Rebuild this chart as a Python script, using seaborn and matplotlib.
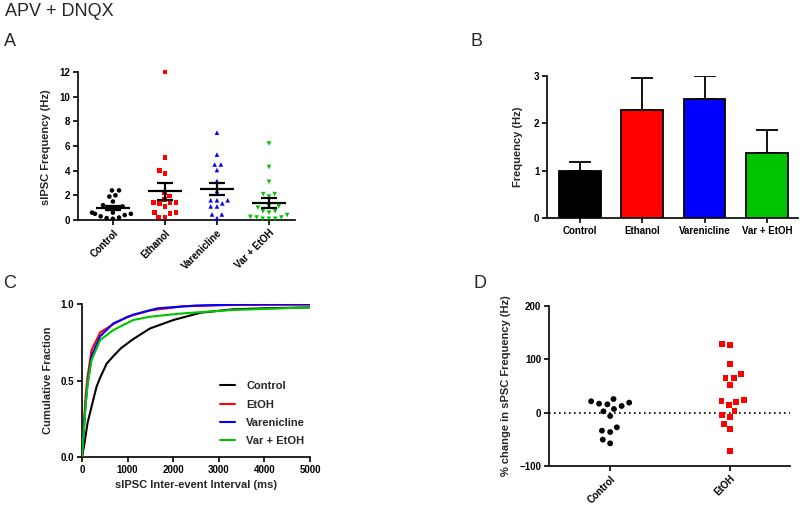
import numpy as np
import pandas as pd
import matplotlib
matplotlib.use("Agg")
import matplotlib.pyplot as plt
import seaborn as sns

# ---------------- data ----------------
groups = ["Control", "Ethanol", "Varenicline", "Var + EtOH"]
control_hz = [2.4, 2.4, 2.0, 1.9, 1.5, 1.2, 1.1, 1.0, 0.9, 0.6, 0.6, 0.5, 0.5, 0.4, 0.3, 0.2, 0.15, 0.1]
ethanol_hz = [12.0, 5.05, 4.0, 3.75, 2.25, 1.95, 1.65, 1.4, 1.4, 1.4, 1.35, 1.1, 0.6, 0.55, 0.6, 0.25, 0.25]
varenicline_hz = [7.08, 5.3, 4.5, 4.5, 4.05, 3.16, 2.35, 1.6, 1.6, 1.6, 1.35, 1.1, 1.1, 0.45, 0.45, 0.15]
var_etoh_hz = [6.2, 4.3, 3.1, 2.1, 2.1, 1.9, 1.1, 1.1, 1.0, 0.7, 0.7, 0.6, 0.4, 0.25, 0.2, 0.2, 0.1, 0.1, 0.1]

bar_means = [1.0, 2.29, 2.52, 1.38]
bar_sems = [0.19, 0.66, 0.48, 0.47]

cdf_labels = ["Control", "EtOH", "Varenicline", "Var + EtOH"]
cdf_control_ms = [0, 50, 120, 210, 320, 400, 540, 690, 850, 1120, 1490, 2000, 2600, 3300, 4000, 5000]
cdf_control_frac = [0, 0.08, 0.22, 0.33, 0.46, 0.52, 0.61, 0.66, 0.71, 0.77, 0.84, 0.895, 0.943, 0.965, 0.972, 0.978]
cdf_etoh_ms = [0, 40, 80, 120, 210, 400, 690, 980, 1490, 2220, 3300, 5000]
cdf_etoh_frac = [0, 0.21, 0.4, 0.52, 0.70, 0.815, 0.868, 0.915, 0.958, 0.985, 0.994, 0.996]
cdf_var_ms = [0, 40, 80, 120, 210, 400, 690, 1120, 1660, 2500, 3300, 5000]
cdf_var_frac = [0, 0.18, 0.35, 0.47, 0.66, 0.79, 0.874, 0.93, 0.972, 0.99, 0.996, 0.999]
cdf_vare_ms = [0, 40, 80, 120, 210, 400, 690, 1120, 1490, 2220, 3311, 5000]
cdf_vare_frac = [0, 0.17, 0.34, 0.47, 0.634, 0.765, 0.83, 0.895, 0.917, 0.939, 0.961, 0.978]

d_groups = ["Control", "EtOH"]
d_control = [25.6, 18.8, 15.6, 6.9, 12.5, 16.9, 21.3, 2.5, -6.3, -33.8, -36.3, -27.5, -57.5, -50.6]
d_etoh = [129.4, 127.5, 90.6, 65.6, 73.1, 64.4, 51.9, 24.4, 20.0, 21.9, 14.4, 3.8, -8.8, -3.8, -21.9, -31.3, -71.9]

colors = ["#000000", "#FF0000", "#0000FF", "#00C400"]

# ---------------- style ----------------
sns.set_style("ticks")
plt.rcParams["font.family"] = ["Liberation Sans", "DejaVu Sans"]
plt.rcParams["font.weight"] = "bold"
plt.rcParams["axes.labelweight"] = "bold"
plt.rcParams["axes.linewidth"] = 1.2
plt.rcParams["xtick.major.width"] = 1.2
plt.rcParams["ytick.major.width"] = 1.2
plt.rcParams["xtick.major.size"] = 3.5
plt.rcParams["ytick.major.size"] = 3.5
plt.rcParams["xtick.color"] = "black"
plt.rcParams["ytick.color"] = "black"
plt.rcParams["axes.edgecolor"] = "black"

W, H = 800, 511
fig = plt.figure(figsize=(W / 100, H / 100), dpi=100)


def px_axes(l, t, r, b):
    return fig.add_axes([l / W, 1 - b / H, (r - l) / W, (b - t) / H])


TICK_FS = 7
LABEL_FS = 8


def style_axes(ax):
    sns.despine(ax=ax)
    ax.tick_params(labelsize=TICK_FS, pad=2)
    for lab in ax.get_xticklabels() + ax.get_yticklabels():
        lab.set_fontweight("bold")


# ---------------- Panel A ----------------
# 0 -> y=220 px, 12 -> y=72 px ; extend a little so markers are not clipped
pxu = (220 - 72) / 12
axA = px_axes(78, 72 - 0.15 * pxu, 295, 220 + 0.3 * pxu)
a_vals = [control_hz, ethanol_hz, varenicline_hz, var_etoh_hz]
a_markers = ["o", "s", "^", "v"]
for g, vals, mk, c in zip(groups, a_vals, a_markers, colors):
    df = pd.DataFrame({"group": [g] * len(vals), "hz": vals})
    sns.swarmplot(data=df, x="group", y="hz", order=groups, marker=mk, color=c,
                  size=3.3, linewidth=1.0, edgecolor="none", ax=axA,
                  zorder=3, warn_thresh=1)
for i, vals in enumerate(a_vals):
    v = np.asarray(vals)
    m = v.mean()
    s = v.std(ddof=1) / np.sqrt(len(v))
    axA.hlines(m, i - 0.33, i + 0.33, color="black", lw=1.6, zorder=5)
    axA.vlines(i, m - s, m + s, color="black", lw=1.6, zorder=5)
    axA.hlines([m - s, m + s], i - 0.16, i + 0.16, color="black", lw=1.6, zorder=5)
axA.set_xlim(-0.67, 3.5)
axA.set_ylim(-0.3, 12.15)
axA.set_yticks(range(0, 13, 2))
axA.set_xlabel("")
axA.set_ylabel("sIPSC Frequency (Hz)", fontsize=LABEL_FS, labelpad=6)
style_axes(axA)
axA.spines["bottom"].set_position(("data", 0))
axA.spines["left"].set_bounds(0, 12)
axA.set_xticks(range(4))
axA.set_xticklabels(groups, rotation=45, ha="right", rotation_mode="anchor",
                    fontsize=TICK_FS, fontweight="bold")

# ---------------- Panel B ----------------
axB = px_axes(547, 76, 798, 218)
sns.barplot(x=groups, y=bar_means, hue=groups, palette=colors, legend=False, saturation=1,
            edgecolor="black", linewidth=1.3, width=0.67, ax=axB, zorder=3)
axB.errorbar(x=np.arange(4), y=bar_means, yerr=[np.zeros(4), bar_sems], fmt="none",
             ecolor="black", elinewidth=1.3, capsize=8, capthick=1.3, zorder=2)
axB.set_xlim(-0.53, 3.5)
axB.set_ylim(0, 3)
axB.set_yticks([0, 1, 2, 3])
axB.set_ylabel("Frequency (Hz)", fontsize=LABEL_FS, labelpad=8)
style_axes(axB)
axB.set_xticks(range(4))
axB.set_xticklabels(groups, fontsize=TICK_FS, fontweight="bold")

# ---------------- Panel C ----------------
axC = px_axes(82, 304, 310, 457)
cdf_sets = [(cdf_control_ms, cdf_control_frac), (cdf_etoh_ms, cdf_etoh_frac),
            (cdf_var_ms, cdf_var_frac), (cdf_vare_ms, cdf_vare_frac)]
for (xs, ys), lab, c in zip(cdf_sets, cdf_labels, colors):
    sns.lineplot(x=xs, y=ys, color=c, lw=1.5, label=lab, ax=axC, sort=False, zorder=3)
axC.set_xlim(0, 5000)
axC.set_ylim(0, 1)
axC.set_xticks(range(0, 5001, 1000))
axC.set_yticks([0, 0.5, 1.0])
axC.set_yticklabels(["0.0", "0.5", "1.0"])
axC.set_xlabel("sIPSC Inter-event Interval (ms)", fontsize=LABEL_FS, labelpad=4)
axC.set_ylabel("Cumulative Fraction", fontsize=LABEL_FS, labelpad=6)
style_axes(axC)
leg = axC.legend(frameon=False, loc="upper left", bbox_to_anchor=(0.56, 0.56),
                 fontsize=LABEL_FS, handlelength=1.4, handletextpad=1.0, labelspacing=0.75)
for t in leg.get_texts():
    t.set_fontweight("bold")

# ---------------- Panel D ----------------
axD = px_axes(549, 306, 790, 466)
for g, vals, mk, c in zip(d_groups, [d_control, d_etoh], ["o", "s"], ["#000000", "#FF0000"]):
    df = pd.DataFrame({"group": [g] * len(vals), "pct": vals})
    sns.swarmplot(data=df, x="group", y="pct", order=d_groups, marker=mk, color=c,
                  size=4.2, linewidth=1.5, edgecolor="none", ax=axD, zorder=3, warn_thresh=1)
axD.axhline(0, color="black", ls=(0, (1, 2)), lw=1.2, zorder=1)
axD.set_xlim(-0.51, 1.5)
axD.set_ylim(-100, 200)
axD.set_yticks([-100, 0, 100, 200])
axD.set_xlabel("")
axD.set_ylabel("% change in sPSC Frequency (Hz)", fontsize=LABEL_FS, labelpad=6)
style_axes(axD)
axD.set_xticks(range(2))
axD.set_xticklabels(d_groups, rotation=45, ha="right", rotation_mode="anchor",
                    fontsize=TICK_FS, fontweight="bold")

# ---------------- titles / letters ----------------
fig.text(5 / W, 1 - 12 / H, "APV + DNQX", fontsize=13, fontweight="normal", va="center", ha="left")
for letter, x, y in [("A", 4, 42), ("B", 470, 42), ("C", 3, 284), ("D", 473, 284)]:
    fig.text(x / W, 1 - y / H, letter, fontsize=13, fontweight="normal", va="center", ha="left")

fig.savefig("out.png", dpi=100)
